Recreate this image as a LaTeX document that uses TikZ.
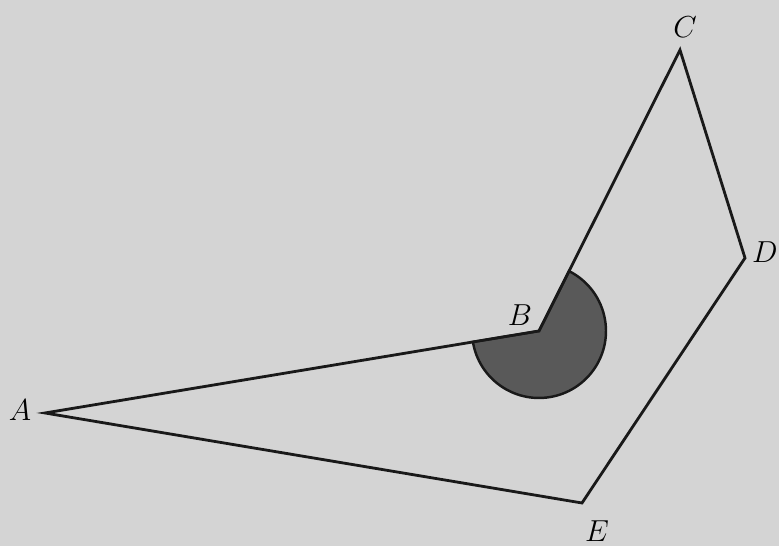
\documentclass[tikz,border=0pt]{standalone}
\usetikzlibrary{calc,backgrounds}

\begin{document}
\begin{tikzpicture}[
  x=0.02cm, y=0.02cm,
  vlabel/.style={font=\fontsize{19}{23}\selectfont\itshape, inner sep=0pt},
  edge/.style={draw=black!90, line width=1.6pt, line join=miter},
  reflex/.style={fill=black!65, draw=black!90, line width=1.4pt},
]
% photo-like page
\fill[black!17] (0,0) rectangle (779,546);
\useasboundingbox (0,0) rectangle (779,546);

\coordinate (A) at (45,133);
\coordinate (B) at (539,215);
\coordinate (C) at (680,496);
\coordinate (D) at (745,288);
\coordinate (E) at (582,43);

\node[vlabel] (lA) at (20,136) {$A$};
\node[vlabel] (lB) at (520,231) {$B$};
\node[vlabel] (lC) at (685,519) {$C$};
\node[vlabel] (lD) at (765,294) {$D$};
\node[vlabel] (lE) at (597,15) {$E$};

% reflex angle at B
\path[reflex] (B) -- ++(189.4:1.34cm) arc[start angle=189.4, end angle=423.4, radius=1.34cm] -- cycle;

\draw[edge] (A) -- (B) -- (C) -- (D) -- (E) -- cycle;

\end{tikzpicture}
\end{document}
